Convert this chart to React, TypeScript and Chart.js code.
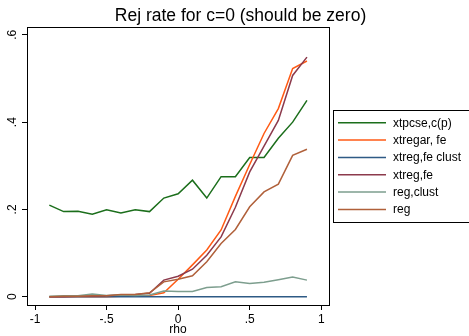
import React, { useEffect, useRef } from "react";
import { Chart, registerables } from "chart.js";

Chart.register(...registerables);

const rho = [-0.9, -0.8, -0.7, -0.6, -0.5, -0.4, -0.3, -0.2, -0.1, 0, 0.1, 0.2, 0.3, 0.4, 0.5, 0.6, 0.7, 0.8, 0.9];

const xtpcse = [0.210, 0.195, 0.196, 0.189, 0.199, 0.192, 0.199, 0.195, 0.226, 0.236, 0.267, 0.226, 0.275, 0.275, 0.319, 0.319, 0.363, 0.400, 0.450];
const xtregar = [0, 0, 0, 0, 0, 0.001, 0.002, 0.003, 0.009, 0.040, 0.073, 0.107, 0.153, 0.230, 0.303, 0.374, 0.431, 0.523, 0.540];
const xtregFeClust = [0, 0, 0, 0, 0, 0, 0, 0, 0, 0, 0, 0, 0, 0, 0, 0, 0, 0, 0];
const xtregFe = [0, 0, 0.001, 0.001, 0.002, 0.004, 0.005, 0.008, 0.038, 0.047, 0.063, 0.095, 0.137, 0.205, 0.286, 0.345, 0.404, 0.507, 0.549];
const regClust = [0.001, 0.002, 0.002, 0.006, 0.003, 0.004, 0.003, 0.004, 0.013, 0.012, 0.012, 0.021, 0.023, 0.034, 0.030, 0.033, 0.039, 0.045, 0.038];
const reg = [0, 0.001, 0.001, 0.002, 0.002, 0.005, 0.005, 0.009, 0.034, 0.040, 0.048, 0.080, 0.122, 0.154, 0.206, 0.240, 0.258, 0.324, 0.338];

const seriesLabels = ["xtpcse,c(p)", "xtregar, fe", "xtreg,fe clust", "xtreg,fe", "reg,clust", "reg"];
const seriesColors = ["#1b6e1b", "#ff5a14", "#2e5a85", "#8c3a4c", "#7d9e8e", "#b0603a"];
const seriesValues = [xtpcse, xtregar, xtregFeClust, xtregFe, regClust, reg];

const xTicks = [-1, -0.5, 0, 0.5, 1];
const xTickLabels = ["-1", "-.5", "0", ".5", "1"];
const yTicks = [0, 0.2, 0.4, 0.6];
const yTickLabels = ["0", ".2", ".4", ".6"];

const titleText = "Rej rate for c=0 (should be zero)";
const xTitle = "rho";
const FONT = "'Liberation Sans', Arial, sans-serif";

const decorPlugin = {
  id: "decor",
  afterDraw(chart: any) {
    const ctx = chart.ctx;
    const ca = chart.chartArea;
    const yScale = chart.scales.y;
    ctx.save();
    // frame
    ctx.strokeStyle = "#000";
    ctx.lineWidth = 1;
    ctx.strokeRect(Math.round(ca.left) + 0.5, Math.round(ca.top) + 0.5, Math.round(ca.right - ca.left), Math.round(ca.bottom - ca.top));
    // title
    ctx.fillStyle = "#000";
    ctx.font = `17.5px ${FONT}`;
    ctx.textAlign = "center";
    ctx.textBaseline = "alphabetic";
    ctx.fillText(titleText, 240.5, 21);
    // x title
    ctx.font = `12px ${FONT}`;
    ctx.textBaseline = "middle";
    ctx.fillText(xTitle, (ca.left + ca.right) / 2, 330);
    // y tick labels, rotated
    yTicks.forEach((v, i) => {
      const py = yScale.getPixelForValue(v);
      ctx.save();
      ctx.translate(13, py);
      ctx.rotate(-Math.PI / 2);
      ctx.textAlign = "center";
      ctx.textBaseline = "middle";
      ctx.fillText(yTickLabels[i], 0, 0);
      ctx.restore();
    });
    // legend
    const lx = 333.5, ly = 110.5, lh = 112;
    ctx.strokeStyle = "#000";
    ctx.lineWidth = 1;
    ctx.strokeRect(lx, ly, 200, lh);
    ctx.font = `12px ${FONT}`;
    ctx.textAlign = "left";
    ctx.textBaseline = "middle";
    chart.data.datasets.forEach((ds: any, i: number) => {
      const cy = 122.7 + i * 17.35;
      ctx.strokeStyle = ds.borderColor;
      ctx.lineWidth = 1.5;
      ctx.beginPath();
      ctx.moveTo(338, cy);
      ctx.lineTo(386, cy);
      ctx.stroke();
      ctx.fillStyle = "#000";
      ctx.fillText(ds.label, 393, cy + 0.5);
    });
    ctx.restore();
  },
};

export default function App() {
  const ref = useRef<HTMLCanvasElement>(null);
  useEffect(() => {
    if (!ref.current) return;
    const chart = new Chart(ref.current, {
      type: "line",
      data: {
        datasets: seriesValues.map((vals, i) => ({
          label: seriesLabels[i],
          data: rho.map((x, j) => ({ x, y: vals[j] })),
          borderColor: seriesColors[i],
          backgroundColor: seriesColors[i],
          borderWidth: 1.5,
          pointRadius: 0,
          tension: 0,
          fill: false,
          order: seriesValues.length - 1 - i,
        })),
      },
      options: {
        responsive: false,
        animation: false,
        devicePixelRatio: 1,
        layout: { padding: { top: 27, right: 140, left: 0, bottom: 0 } },
        plugins: { legend: { display: false }, title: { display: false }, tooltip: { enabled: false } },
        scales: {
          x: {
            type: "linear",
            min: -1.056,
            max: 1.054,
            afterBuildTicks: (s: any) => { s.ticks = xTicks.map((v) => ({ value: v })); },
            afterFit: (s: any) => { s.height = 31; },
            grid: { display: true, drawOnChartArea: false, drawTicks: true, tickLength: 5, color: "#000", lineWidth: 1 },
            border: { display: true, color: "#000", width: 1 },
            ticks: {
              color: "#000",
              font: { family: FONT, size: 12 },
              padding: 2,
              maxRotation: 0,
              minRotation: 0,
              autoSkip: false,
              callback: (v: any) => { const k = xTicks.indexOf(Number(v)); return k >= 0 ? xTickLabels[k] : ""; },
            },
          },
          y: {
            type: "linear",
            min: -0.019,
            max: 0.618,
            afterBuildTicks: (s: any) => { s.ticks = yTicks.map((v) => ({ value: v })); },
            afterFit: (s: any) => { s.width = 27; },
            grid: { display: true, drawOnChartArea: false, drawTicks: true, tickLength: 5, color: "#000", lineWidth: 1 },
            border: { display: true, color: "#000", width: 1 },
            ticks: { color: "rgba(0,0,0,0)", font: { family: FONT, size: 12 }, autoSkip: false },
          },
        },
      },
      plugins: [decorPlugin],
    } as any);
    return () => chart.destroy();
  }, []);
  return (
    <div style={{ position: "fixed", left: 0, top: 0, width: 469, height: 336, background: "#fff" }}>
      <canvas ref={ref} width={469} height={336} style={{ width: 469, height: 336 }} />
    </div>
  );
}
